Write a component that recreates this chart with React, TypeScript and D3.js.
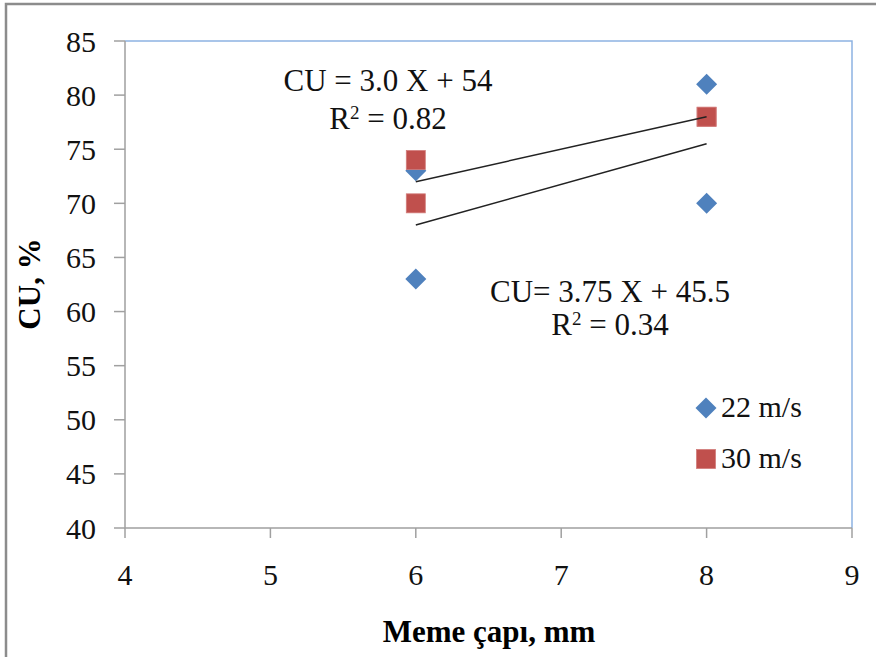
import * as d3 from "d3";

// nozzle diameter (mm) vs CU (%)
const x22 = [6, 6, 8, 8];
const cu22 = [73, 63, 81, 70];
const x30 = [6, 6, 8, 8];
const cu30 = [74, 70, 78, 78];

const xTicks = [4, 5, 6, 7, 8, 9];
const yTicks = [40, 45, 50, 55, 60, 65, 70, 75, 80, 85];

const eq30 = ["CU = 3.0 X + 54", "0.82"];
const eq22 = ["CU= 3.75 X + 45.5", "0.34"];
const legendLabels = ["22 m/s", "30 m/s"];

const BLUE = "#4f81bd";
const RED = "#c0504d";
const serif = { fontFamily: "Liberation Serif" };

const W = 876;
const H = 657;
const plot = { left: 125, right: 852, top: 41, bottom: 528 };

// least squares fit, drawn from min x to max x like Excel's trendline
const fit = (xs: number[], ys: number[]) => {
  const mx = d3.mean(xs)!;
  const my = d3.mean(ys)!;
  const sxy = d3.sum(xs, (x, i) => (x - mx) * (ys[i] - my));
  const sxx = d3.sum(xs, (x) => (x - mx) ** 2);
  const b = sxy / sxx;
  const a = my - b * mx;
  const [x0, x1] = d3.extent(xs) as [number, number];
  return [
    [x0, a + b * x0],
    [x1, a + b * x1],
  ] as [number, number][];
};

const App = () => {
  const x = d3.scaleLinear().domain([4, 9]).range([plot.left, plot.right]);
  const y = d3.scaleLinear().domain([40, 85]).range([plot.bottom, plot.top]);
  const line = d3
    .line<[number, number]>()
    .x((d) => x(d[0]))
    .y((d) => y(d[1]));

  const diamond = (cx: number, cy: number, key: string | number) => (
    <path
      key={key}
      d={`M${cx},${cy - 10.5}L${cx + 10.5},${cy}L${cx},${cy + 10.5}L${cx - 10.5},${cy}Z`}
      fill={BLUE}
    />
  );
  const square = (cx: number, cy: number, key: string | number) => (
    <rect
      key={key}
      x={cx - 9.5}
      y={cy - 9.5}
      width={19}
      height={19}
      fill={RED}
      stroke="#d27c7a"
      strokeWidth={0.8}
    />
  );

  const r2 = (cx: number, cy: number, val: string) => (
    <text x={cx} y={cy} style={serif} fontSize={31} fill="#111" textAnchor="middle">
      R<tspan fontSize={19} dy={-10}>2</tspan>
      <tspan dy={10}> = {val}</tspan>
    </text>
  );

  return (
    <svg
      width={W}
      height={H}
      style={{ position: "absolute", left: 0, top: 0, background: "#fff" }}
    >
      <rect x={6} y={4} width={W + 10} height={H + 10} fill="#fff" stroke="#8c8c8c" strokeWidth={2.5} />

      {/* plot frame: blue top/right, gray axes */}
      <path
        d={`M${plot.left},${plot.top}H${plot.right}V${plot.bottom}`}
        fill="none"
        stroke="#8db3e2"
        strokeWidth={1.5}
      />
      <path
        d={`M${plot.left},${plot.top}V${plot.bottom}H${plot.right}`}
        fill="none"
        stroke="#a0a0a0"
        strokeWidth={1.5}
      />

      {yTicks.map((t) => (
        <g key={t} transform={`translate(0,${y(t)})`}>
          <line x1={plot.left - 11} x2={plot.left} stroke="#a0a0a0" strokeWidth={1.5} />
          <text x={96} dy="0.35em" textAnchor="end" fontSize={30} fill="#111" style={serif}>
            {t}
          </text>
        </g>
      ))}
      {xTicks.map((t) => (
        <g key={t} transform={`translate(${x(t)},0)`}>
          <line y1={plot.bottom} y2={plot.bottom + 10} stroke="#a0a0a0" strokeWidth={1.5} />
          <text y={585} textAnchor="middle" fontSize={30} fill="#111" style={serif}>
            {t}
          </text>
        </g>
      ))}

      <text
        transform="translate(40,284) rotate(-90)"
        textAnchor="middle"
        fontSize={31}
        fontWeight="bold"
        style={serif}
      >
        CU, %
      </text>
      <text x={489} y={642} textAnchor="middle" fontSize={31} fontWeight="bold" style={serif}>
        Meme çapı, mm
      </text>

      {x22.map((d, i) => diamond(x(d), y(cu22[i]), "b" + i))}
      {x30.map((d, i) => square(x(d), y(cu30[i]), "r" + i))}

      <path d={line(fit(x22, cu22))!} fill="none" stroke="#222" strokeWidth={1.5} />
      <path d={line(fit(x30, cu30))!} fill="none" stroke="#222" strokeWidth={1.5} />

      <text x={388} y={91} style={serif} fontSize={31} fill="#111" textAnchor="middle">
        {eq30[0]}
      </text>
      {r2(388, 129, eq30[1])}
      <text x={610} y={302} style={serif} fontSize={31} fill="#111" textAnchor="middle">
        {eq22[0]}
      </text>
      {r2(610, 335, eq22[1])}

      {diamond(706, 408, "lg1")}
      {square(706, 459, "lg2")}
      <text x={721} y={417} style={serif} fontSize={30} fill="#111">
        {legendLabels[0]}
      </text>
      <text x={721} y={468} style={serif} fontSize={30} fill="#111">
        {legendLabels[1]}
      </text>
    </svg>
  );
};

export default App;
